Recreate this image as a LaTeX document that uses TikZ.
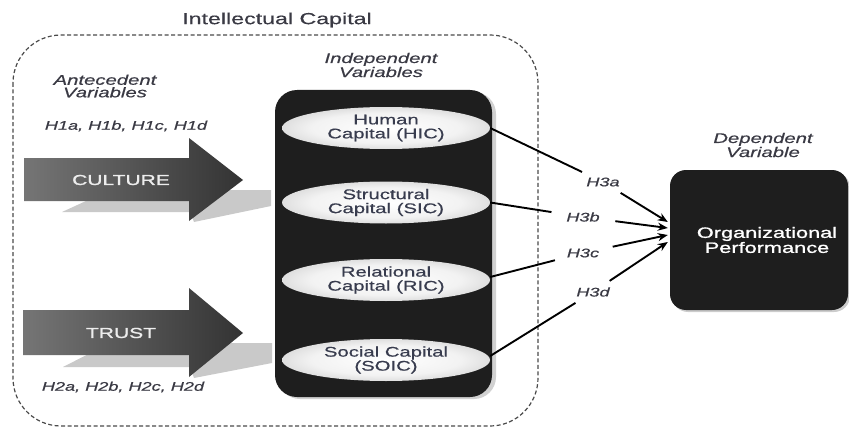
\documentclass[tikz,border=0pt]{standalone}
\usepackage{fontspec}
\setmainfont{Liberation Sans}[FakeStretch=1.45, FakeBold=0.5]
\newfontfamily\heavyfont{Liberation Sans}[FakeStretch=1.45, FakeBold=1.2]
\usetikzlibrary{arrows.meta,shapes.geometric,calc}

\definecolor{txt}{HTML}{3A3A44}
\definecolor{pilltxt}{HTML}{383C4E}
\definecolor{boxblack}{HTML}{1E1E1E}
\definecolor{frame}{HTML}{4A4A4A}

% light centre, grey rim for the capital "pills"
\pgfdeclareradialshading{pillshade}{\pgfpoint{0bp}{0bp}}{%
  color(0bp)=(white); color(18bp)=(black!5); color(34bp)=(black!22);
  color(44bp)=(black!45); color(50bp)=(black!72)}

\begin{document}
\begin{tikzpicture}[x=1pt,y=-1pt,
  every node/.style={inner sep=0pt, text=txt},
  lbl/.style={font=\itshape\fontsize{14}{12.5}\selectfont, align=center},
  hyplist/.style={font=\itshape\fontsize{12.5}{12.5}\selectfont},
  hnode/.style={ellipse, minimum width=68pt, minimum height=25pt,
                font=\itshape\fontsize{12.5}{12.5}\selectfont},
  pill/.style={ellipse, minimum width=208pt, minimum height=42pt,
               shading=pillshade, align=center,
               font=\fontsize{14}{14}\selectfont, text=pilltxt},
  bigarrow/.style={left color=black!54, right color=black!80},
  arrowshadow/.style={fill=black!21},
  arrowtext/.style={font=\heavyfont\fontsize{14.5}{14.5}\selectfont, text=white!93!black},
  link/.style={line width=1.9pt, black},
  hyparrow/.style={link, -{Stealth[length=10pt,width=8pt]}},
  boundary/.style={draw=frame, line width=1.2pt, dash pattern=on 4pt off 2.5pt,
                   rounded corners=48pt},
  blackbox/.style={fill=boxblack},
  orgbox/.style={rectangle, fill=boxblack, rounded corners=16pt,
                 minimum width=178pt, minimum height=140pt},
]
\useasboundingbox (0,0) rectangle (849,428);

% dashed frame of the intellectual-capital block
\draw[boundary] (13,35) rectangle (538,426);
\node[font=\fontsize{16}{16}\selectfont] (title) at (277,20) {Intellectual Capital};

% antecedent variables
\node[lbl] (antec) at (105,86) {Antecedent\\Variables};
\node[hyplist] (h1) at (126,126) {H1a, H1b, H1c, H1d};
\node[hyplist] (h2) at (123,387) {H2a, H2b, H2c, H2d};

\fill[arrowshadow] (62,212) -- (110,190) -- (271,190) -- (271,206)
                   -- (194,222) -- (190,212) -- cycle;
\shade[bigarrow] (24,158) -- (189,158) -- (189,138) -- (243,180)
                 -- (189,221) -- (189,201) -- (24,201) -- cycle;
\node[arrowtext] (culture) at (121,180) {CULTURE};

\fill[arrowshadow] (63,367) -- (110,343) -- (272,343) -- (272,363)
                   -- (194,378) -- (190,367) -- cycle;
\shade[bigarrow] (23,310) -- (189,310) -- (189,288) -- (243,333)
                 -- (189,377) -- (189,355) -- (23,355) -- cycle;
\node[arrowtext] (trust) at (121,333) {TRUST};

% independent variables
\node[lbl] (indep) at (381,65) {Independent\\Variables};
\fill[black!18, rounded corners=22pt] (278,92) rectangle (496,399);
\fill[blackbox, rounded corners=22pt] (275,90) rectangle (492,397);

\node[pill] (hic)  at (386,128) {Human\\Capital (HIC)};
\node[pill] (sic)  at (386,202.5) {Structural\\Capital (SIC)};
\node[pill] (ric)  at (386,280) {Relational\\Capital (RIC)};
\node[pill] (soic) at (386,360) {Social Capital\\(SOIC)};

% dependent variable
\node[lbl] (dep) at (763,145) {Dependent\\Variable};
\node[orgbox, fill=black!20] at (761,242) {};
\node[orgbox] (org) at (759,240) {};
\node[font=\heavyfont\fontsize{15}{15}\selectfont, align=center, text=white] (orgtext)
     at (767,240) {Organizational\\Performance};

% hypotheses H3a-H3d
\node[hnode] (h3a) at (603,182) {H3a};
\node[hnode] (h3b) at (583,217) {H3b};
\node[hnode] (h3c) at (583,253) {H3c};
\node[hnode] (h3d) at (593,292) {H3d};

\draw[link] (hic.east) -- (h3a);
\draw[link] (sic.east) -- (h3b);
\draw[link] ($(ric.east)+(0,-3)$) -- (h3c);
\draw[link] ($(soic.east)+(0,-4)$) -- (h3d);

\draw[hyparrow] (h3a) -- ($(org.west)+(-2,-18)$);
\draw[hyparrow] (h3b) -- ($(org.west)+(-2,-12)$);
\draw[hyparrow] (h3c) -- ($(org.west)+(-2,-5)$);
\draw[hyparrow] (h3d) -- ($(org.west)+(-2,2)$);
\end{tikzpicture}
\end{document}
